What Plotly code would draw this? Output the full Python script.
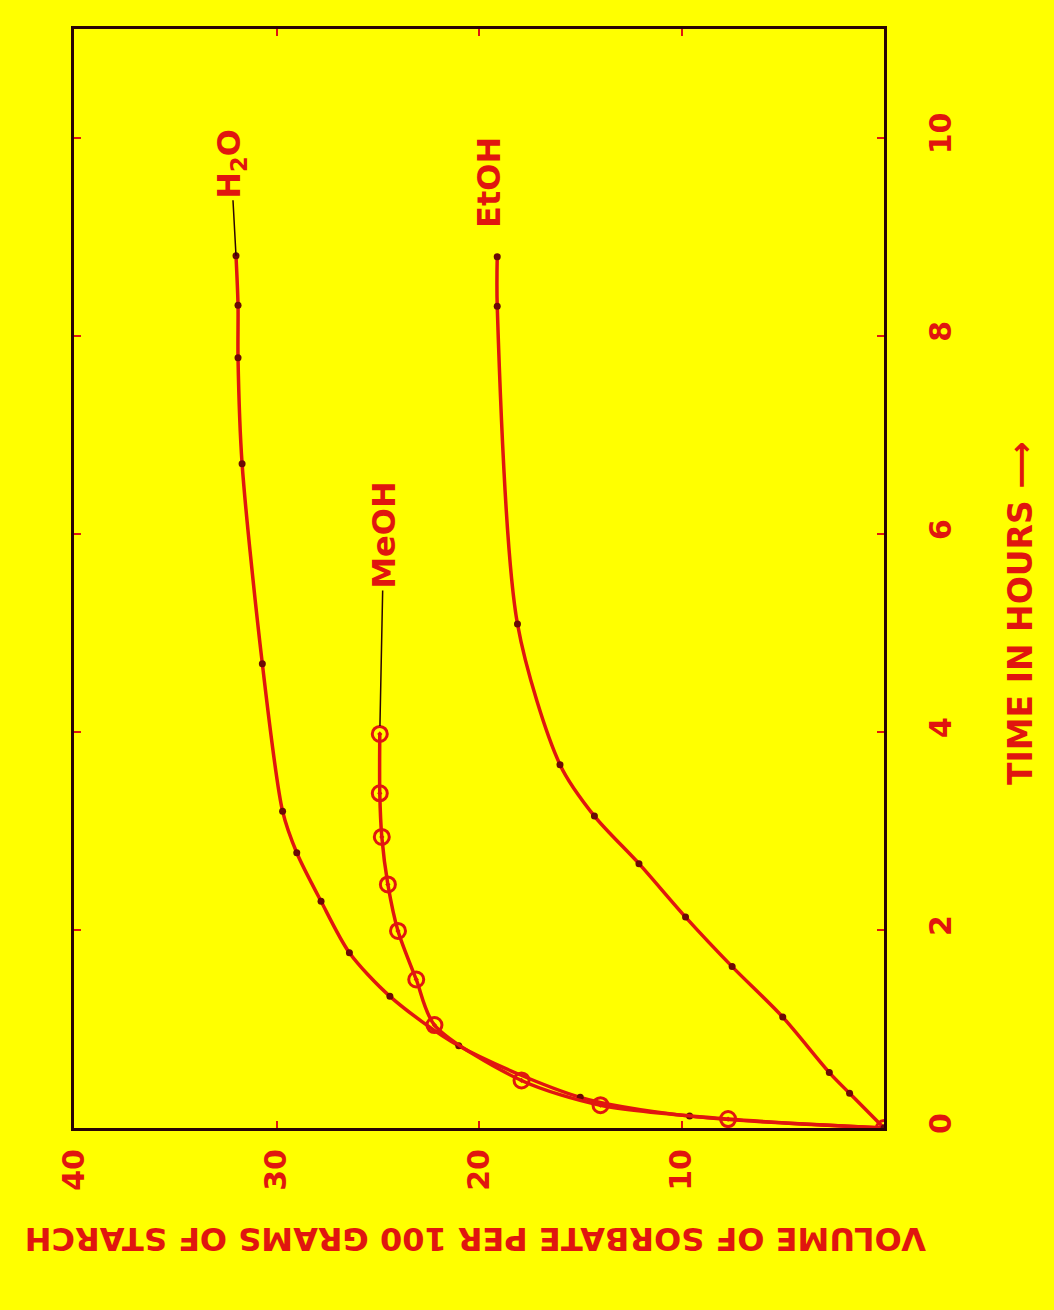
import plotly.graph_objects as go

# ---- data (volume of sorbate per 100 g starch vs time in hours) ----
h2o_time = [0, 0.12, 0.31, 0.83, 1.33, 1.77, 2.29, 2.78, 3.20, 4.69, 6.71, 7.78, 8.31, 8.81]
h2o_vol = [0, 9.6, 15.0, 21.0, 24.4, 26.4, 27.8, 29.0, 29.7, 30.7, 31.7, 31.9, 31.9, 32.0]

meoh_time = [0, 0.09, 0.23, 0.48, 1.04, 1.50, 1.99, 2.46, 2.94, 3.38, 3.98]
meoh_vol = [0, 7.7, 14.0, 17.9, 22.2, 23.1, 24.0, 24.5, 24.8, 24.9, 24.9]

etoh_time = [0, 0.35, 0.56, 1.12, 1.63, 2.13, 2.67, 3.15, 3.67, 5.09, 8.30, 8.80]
etoh_vol = [0, 1.7, 2.7, 5.0, 7.5, 9.8, 12.1, 14.3, 16.0, 18.1, 19.1, 19.1]

vol_ticks = [10, 20, 30, 40]
time_ticks = [0, 2, 4, 6, 8, 10]

RED = "#e0160f"
DARK = "#2a0404"
BG = "#FFFF00"
FONT = "DejaVu Sans"

fig = go.Figure()

fig.add_trace(go.Scatter(
    x=h2o_vol, y=h2o_time, mode="lines+markers", name="H2O",
    line=dict(color=RED, width=3.5, shape="spline", smoothing=0.8),
    marker=dict(color="#6a0a05", size=7, symbol="circle"),
))
fig.add_trace(go.Scatter(
    x=meoh_vol, y=meoh_time, mode="lines+markers", name="MeOH",
    line=dict(color=RED, width=3.5, shape="spline", smoothing=0.8),
    marker=dict(color=RED, size=15, symbol="circle-open-dot", line=dict(width=3, color=RED)),
))
fig.add_trace(go.Scatter(
    x=etoh_vol, y=etoh_time, mode="lines+markers", name="EtOH",
    line=dict(color=RED, width=3.5, shape="spline", smoothing=0.8),
    marker=dict(color="#6a0a05", size=7, symbol="circle"),
))

label_font = dict(family=FONT, size=32, color=RED, weight="bold")

annotations = [
    dict(x=h2o_vol[-1], y=h2o_time[-1], xref="x", yref="y", text="H<sub>2</sub>O",
         textangle=-90, font=label_font, showarrow=True, arrowhead=0,
         arrowcolor=DARK, arrowwidth=1.5, ax=-5, ay=-92, standoff=0),
    dict(x=meoh_vol[-1], y=meoh_time[-1], xref="x", yref="y", text="MeOH",
         textangle=-90, font=label_font, showarrow=True, arrowhead=0,
         arrowcolor=DARK, arrowwidth=1.5, ax=4, ay=-199, standoff=8),
    dict(x=etoh_vol[-1], y=etoh_time[-1], xref="x", yref="y", text="EtOH",
         textangle=-90, font=label_font, showarrow=False, xshift=-9, yshift=74),
    dict(x=1.195, y=0.469, xref="paper", yref="paper", text="TIME IN HOURS ⟶",
         textangle=-90, font=dict(family=FONT, size=33, color=RED, weight="bold"),
         showarrow=False),
    dict(x=0.495, y=-0.12, xref="paper", yref="paper",
         text="VOLUME OF SORBATE PER 100 GRAMS OF STARCH",
         textangle=180, font=dict(family=FONT, size=32, color=RED, weight="bold"),
         showarrow=False),
]

tickfont = dict(family=FONT, size=30, color=RED, weight="bold")

fig.update_layout(
    width=1054, height=1310,
    margin=dict(l=74, r=170, t=29, b=182),
    paper_bgcolor=BG, plot_bgcolor=BG,
    showlegend=False,
    annotations=annotations,
    xaxis=dict(range=[40, 0], tickvals=vol_ticks, ticktext=[str(v) for v in vol_ticks],
               tickangle=-90, tickfont=tickfont, showgrid=False, zeroline=False,
               showline=True, linecolor=DARK, linewidth=3, mirror="ticks",
               ticks="inside", ticklen=7, tickwidth=2, tickcolor=RED,
               ticklabelstandoff=6),
    yaxis=dict(range=[0, 11.1], side="right", tickvals=time_ticks,
               ticktext=[str(t) for t in time_ticks],
               tickangle=-90, tickfont=tickfont, showgrid=False, zeroline=False,
               showline=True, linecolor=DARK, linewidth=3, mirror="ticks",
               ticks="inside", ticklen=7, tickwidth=2, tickcolor=RED,
               ticklabelstandoff=28),
)

fig.write_html("out.html")
